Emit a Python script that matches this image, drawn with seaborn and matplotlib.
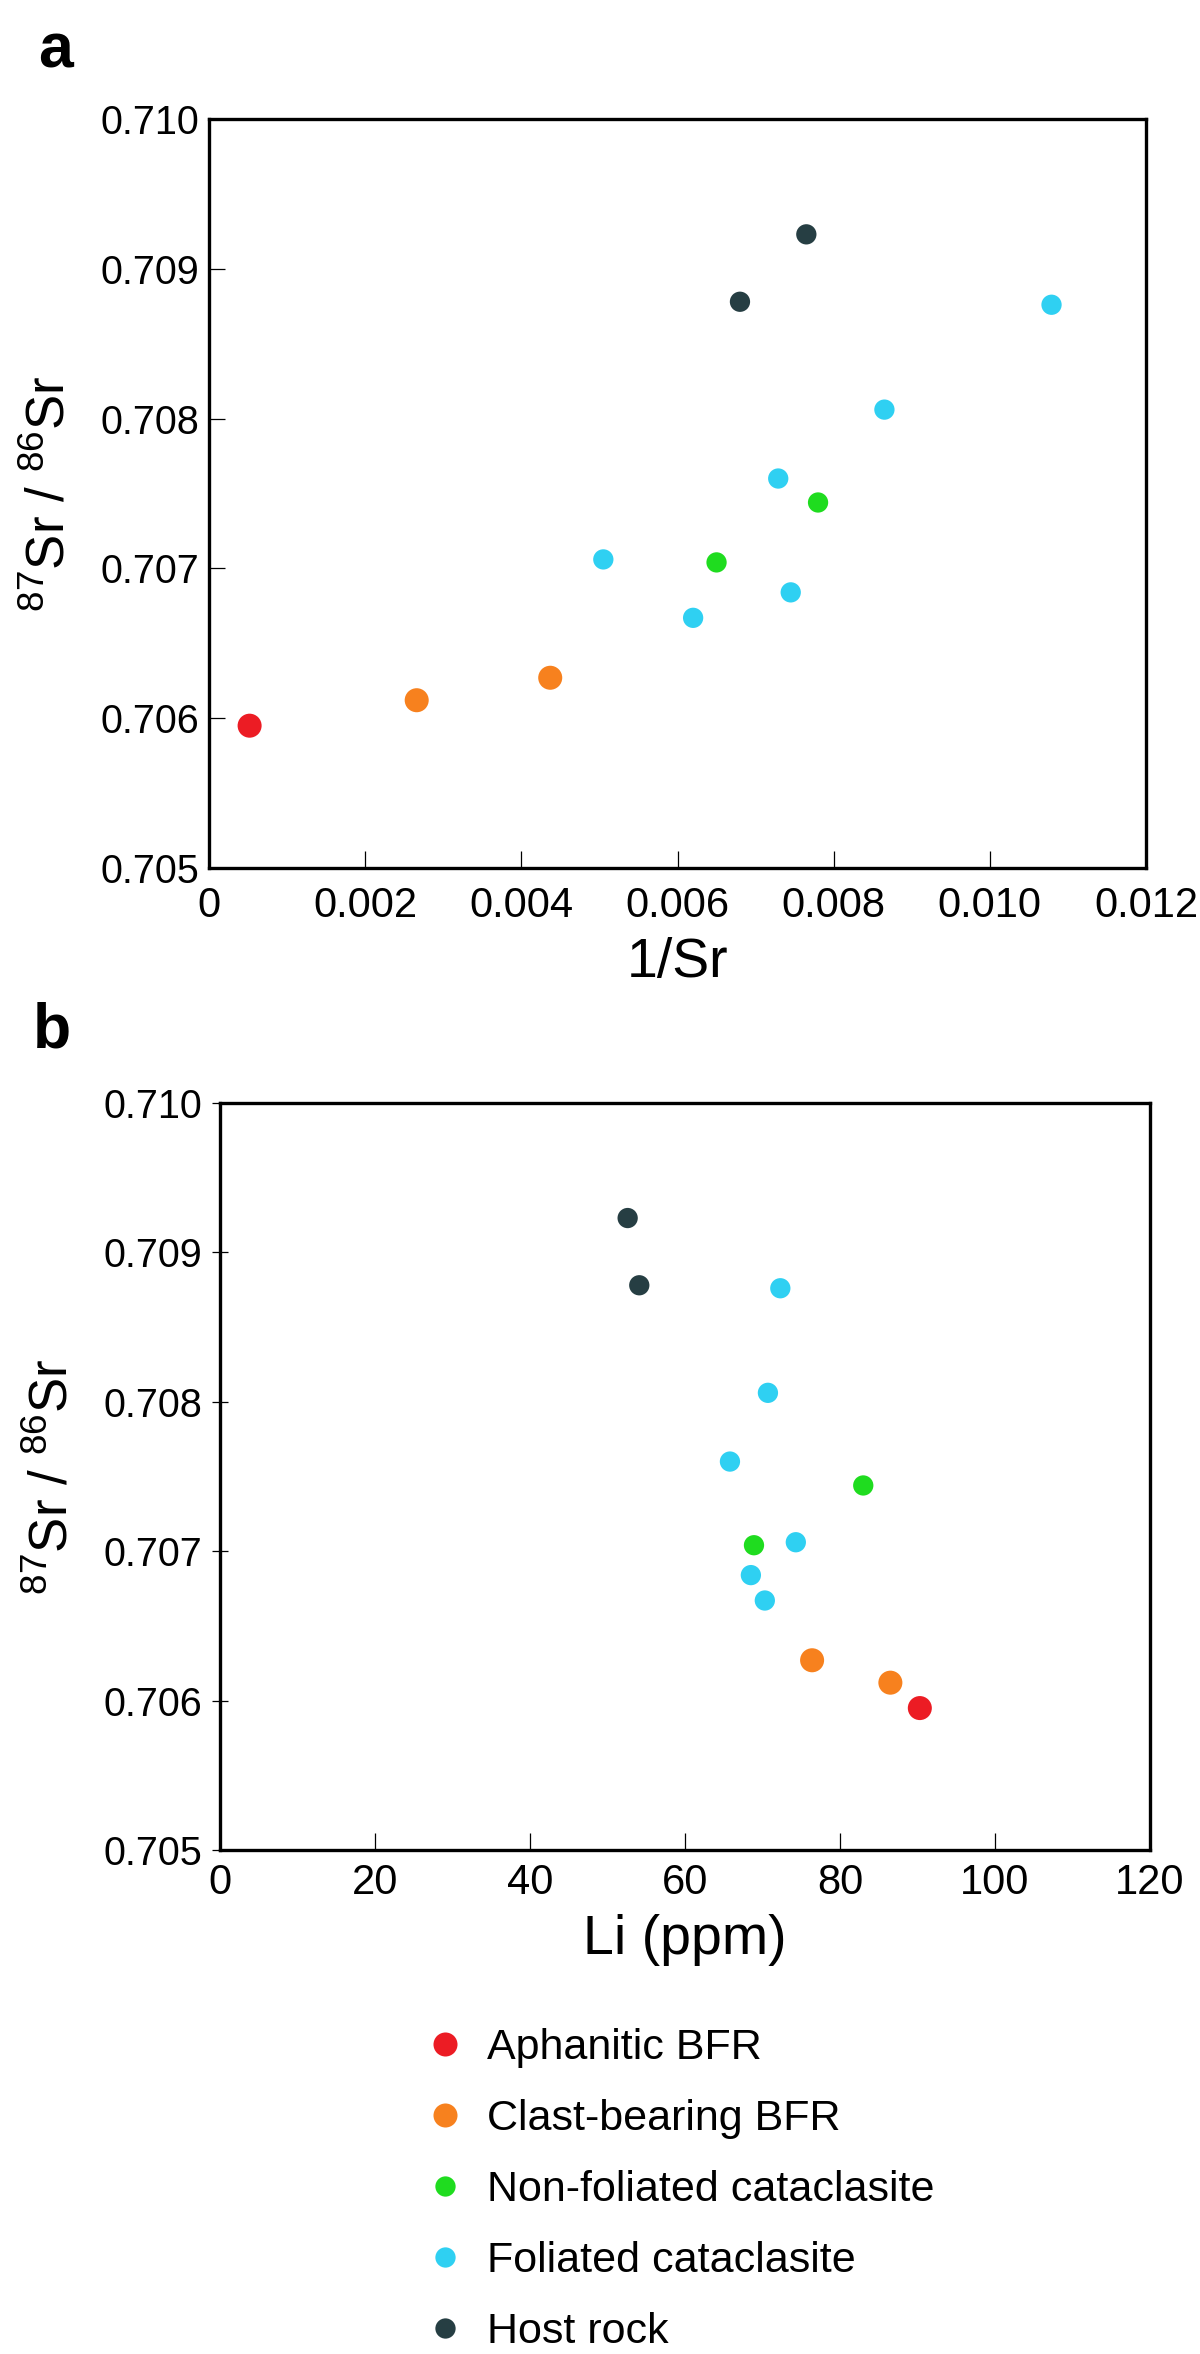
import pandas as pd
import matplotlib
matplotlib.use("Agg")
import matplotlib.pyplot as plt
from matplotlib.lines import Line2D
import seaborn as sns


# ---------------------------------------------------------------------------
# Data
# ---------------------------------------------------------------------------

group_names = ['Aphanitic BFR', 'Clast-bearing BFR', 'Non-foliated cataclasite',
               'Foliated cataclasite', 'Host rock']
group_colors = ['#ec1c24', '#f7811e', '#1fdc1f', '#2fd0f2', '#263e43']
group_marker_pt = [17.3, 17.3, 14.6, 14.6, 14.6]

sample_group = [
    'Aphanitic BFR',
    'Clast-bearing BFR',
    'Clast-bearing BFR',
    'Foliated cataclasite',
    'Foliated cataclasite',
    'Non-foliated cataclasite',
    'Foliated cataclasite',
    'Non-foliated cataclasite',
    'Foliated cataclasite',
    'Foliated cataclasite',
    'Foliated cataclasite',
    'Host rock',
    'Host rock',
]
sr_ratio = [0.70595, 0.70612, 0.70627, 0.70667, 0.70684, 0.70704, 0.70706,
            0.70744, 0.70760, 0.70806, 0.70876, 0.70878, 0.70923]
inv_sr = [0.00052, 0.00266, 0.00437, 0.00620, 0.00745, 0.00650, 0.00505,
          0.00780, 0.00729, 0.00865, 0.01079, 0.00680, 0.00765]
li_ppm = [90.3, 86.5, 76.4, 70.3, 68.5, 68.9, 74.3, 83.0, 65.8, 70.7, 72.3,
          54.1, 52.6]

sr_ticks = [0.705, 0.706, 0.707, 0.708, 0.709, 0.710]
sr_tick_labels = ['0.705', '0.706', '0.707', '0.708', '0.709', '0.710']
inv_sr_ticks = [0, 0.002, 0.004, 0.006, 0.008, 0.010, 0.012]
inv_sr_tick_labels = ['0', '0.002', '0.004', '0.006', '0.008', '0.010', '0.012']
li_ticks = [0, 20, 40, 60, 80, 100, 120]
li_tick_labels = ['0', '20', '40', '60', '80', '100', '120']

df = pd.DataFrame({'group': sample_group, 'sr': sr_ratio,
                   'inv_sr': inv_sr, 'li': li_ppm})
palette = dict(zip(group_names, group_colors))
sizes = dict(zip(group_names, [m ** 2 for m in group_marker_pt]))


# ---------------------------------------------------------------------------
# Plotting
# ---------------------------------------------------------------------------

sns.set_theme(style='white')
plt.rcParams['font.family'] = ['Liberation Sans', 'DejaVu Sans']
plt.rcParams['mathtext.default'] = 'regular'
plt.rcParams['text.color'] = 'black'

NARROW = ['Liberation Sans Narrow', 'DejaVu Sans Condensed', 'Liberation Sans']

W, H = 1200, 2354
fig = plt.figure(figsize=(W / 100, H / 100), dpi=100, facecolor='white')

ax_a = fig.add_axes([209 / W, 1 - 868 / H, 937 / W, 749 / H])
ax_b = fig.add_axes([220 / W, 1 - 1850 / H, 930 / W, 747 / H])


def style_axes(ax, xticks, xlabels, xlabel, ydir, xpad, xlabelpad):
    ax.set_xlim(xticks[0], xticks[-1])
    ax.set_ylim(sr_ticks[0], sr_ticks[-1])
    ax.set_xticks(xticks)
    ax.set_xticklabels(xlabels)
    ax.set_yticks(sr_ticks)
    ax.set_yticklabels(sr_tick_labels)
    for spine in ax.spines.values():
        spine.set_visible(True)
        spine.set_linewidth(2.4)
        spine.set_color('black')
    ax.tick_params(axis='x', direction='in', length=12, width=0.9, pad=xpad,
                   labelsize=30, colors='black', bottom=True, top=False)
    ax.tick_params(axis='y', direction=ydir, length=11.5, width=0.9, pad=7,
                   labelsize=28.5, colors='black', left=True, right=False)
    for lab in ax.get_xticklabels():
        lab.set_fontfamily(NARROW)
    ax.set_xlabel(xlabel, fontsize=40, labelpad=xlabelpad, color='black',
                  fontfamily=NARROW)
    ax.set_ylabel(r'$^{87}$Sr / $^{86}$Sr', fontsize=38, labelpad=18,
                  color='black')
    ax.grid(False)


for ax, xcol in [(ax_a, 'inv_sr'), (ax_b, 'li')]:
    sns.scatterplot(data=df, x=xcol, y='sr', hue='group', size='group',
                    hue_order=group_names, size_order=group_names,
                    palette=palette, sizes=sizes, linewidth=0, alpha=1,
                    legend=False, ax=ax, zorder=3)

style_axes(ax_a, inv_sr_ticks, inv_sr_tick_labels, '1/Sr', 'in', 13, 8)
style_axes(ax_b, li_ticks, li_tick_labels, 'Li (ppm)', 'inout', 9, 8)

# panel letters
fig.text(38 / W, 1 - 67 / H, 'a', fontsize=45, fontweight='bold',
         va='baseline', ha='left', color='black')
fig.text(33 / W, 1 - 1047 / H, 'b', fontsize=45, fontweight='bold',
         va='baseline', ha='left', color='black')

# legend below panel b
handles = [Line2D([], [], linestyle='', marker='o', markersize=m,
                  markerfacecolor=c, markeredgewidth=0)
           for c, m in zip(group_colors, group_marker_pt)]
fig.legend(handles, group_names, loc='upper left',
           bbox_to_anchor=(423 / W, 1 - 2028 / H), frameon=False,
           fontsize=31, handlelength=1.0, handletextpad=0.48,
           labelspacing=0.72, borderpad=0, borderaxespad=0, numpoints=1,
           labelcolor='black')

plt.savefig('out.png', dpi=100, facecolor='white')
plt.close()
